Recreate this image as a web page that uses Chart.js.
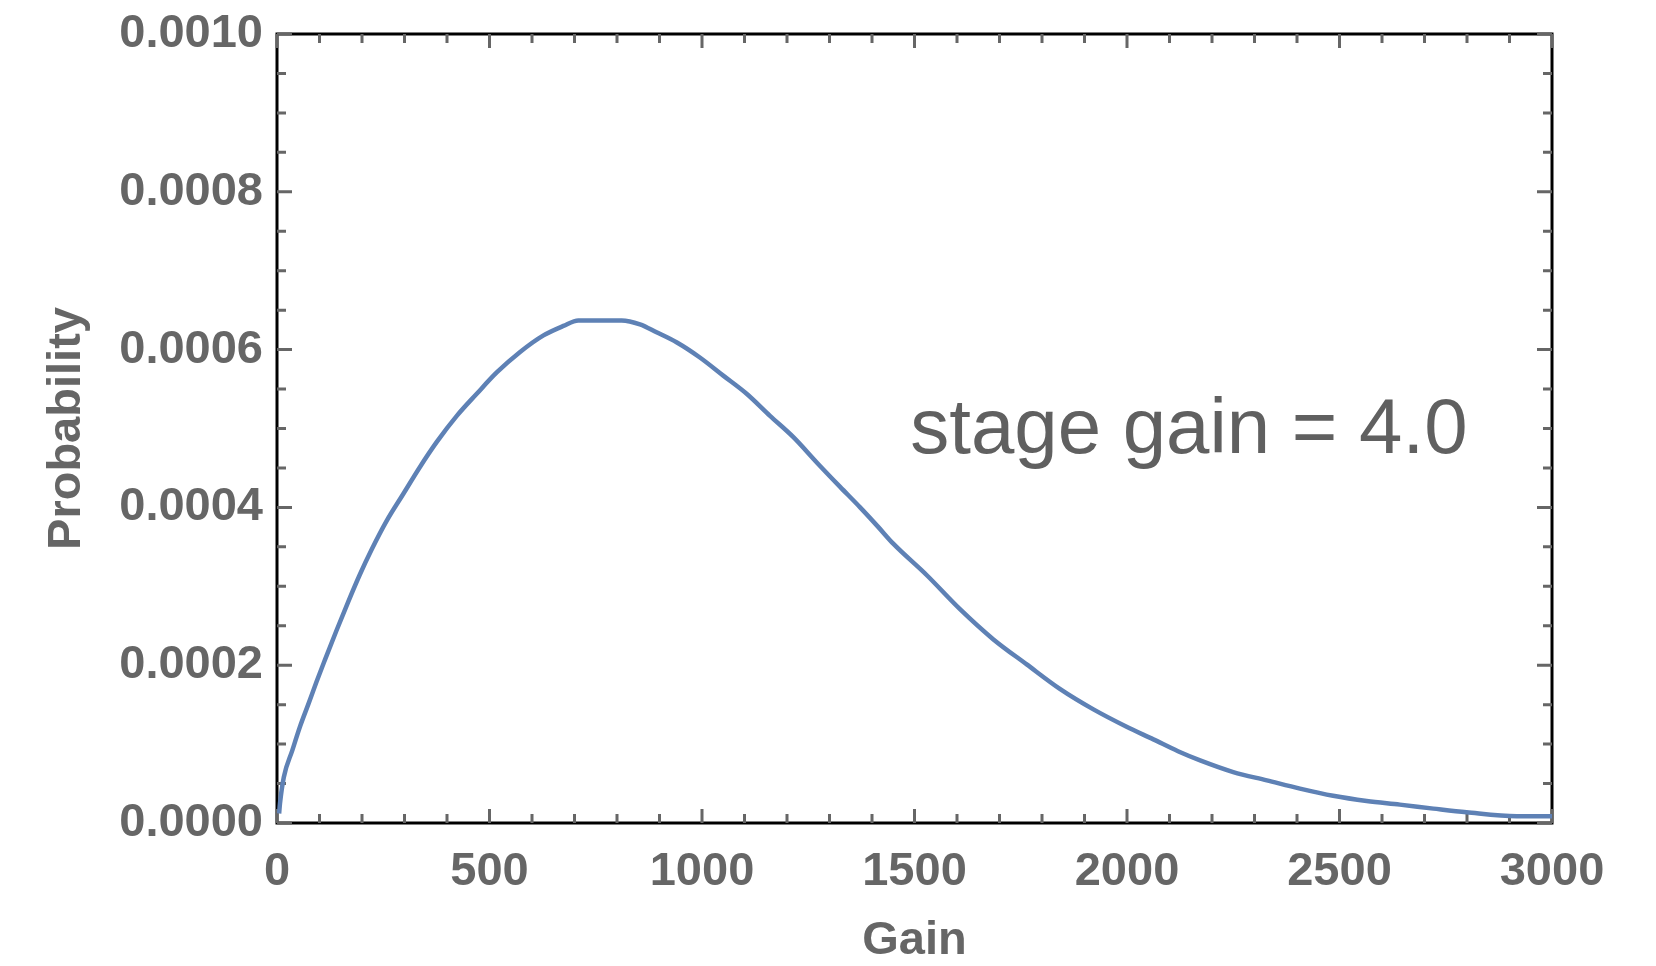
<!DOCTYPE html>
<html>
<head>
<meta charset="utf-8">
<title>Gain distribution</title>
<script src="https://cdn.jsdelivr.net/npm/chart.js@4.4.1/dist/chart.umd.min.js"></script>
<style>
  html, body { margin: 0; padding: 0; background: #fff; }
  #wrap { width: 1656px; height: 966px; position: relative; }
</style>
</head>
<body>
<div id="wrap"><canvas id="gainChart"></canvas></div>
<script>
// ---- data ----
const gain = [5, 7, 16, 36, 54, 74, 93, 113, 140, 168, 195, 223, 258, 297, 336, 376, 423, 470, 517, 572, 627, 674,
  709, 760, 811, 854, 893, 941, 995, 1050, 1105, 1160, 1215, 1270, 1325, 1372, 1415, 1450, 1529, 1607, 1685,
  1764, 1842, 1921, 1999, 2062, 2120, 2172, 2250, 2329, 2407, 2485, 2564, 2642, 2721, 2799, 2917, 3000];
const probability = [0.000012, 0.0000246, 0.000058, 0.000092, 0.000122, 0.000151, 0.000179, 0.000207, 0.000244,
  0.000281, 0.000315, 0.000347, 0.000383, 0.000417, 0.000451, 0.000483, 0.000516, 0.000544, 0.000571, 0.000597,
  0.000618, 0.000630, 0.000637, 0.000637, 0.000637, 0.000632, 0.000622, 0.000609, 0.00059, 0.000567, 0.000544,
  0.000516, 0.000489, 0.000457, 0.000426, 0.0004, 0.000375, 0.000354, 0.000314, 0.000271, 0.000233, 0.000201,
  0.00017, 0.000144, 0.000122, 0.000106, 0.000091, 0.0000794, 0.0000646, 0.0000541, 0.0000436, 0.0000345,
  0.0000279, 0.0000233, 0.0000182, 0.0000135, 0.0000085, 0.0000085];

const xTicks = [0, 500, 1000, 1500, 2000, 2500, 3000];
const yTicks = [0, 0.0002, 0.0004, 0.0006, 0.0008, 0.0010];
const xMinorStep = 100;
const yMinorStep = 0.00005;

const xTitle = 'Gain';
const yTitle = 'Probability';
const noteText = 'stage gain = 4.0';
const noteAt = { x: 1490, y: 0.000469 };

const GREY = '#666666';
const LINE = '#5E81B5';
const FONT = "'Liberation Sans', Arial, Helvetica, sans-serif";

// frame + inward ticks on all four sides (Mathematica style)
const frameTicks = {
  id: 'frameTicks',
  beforeDatasetsDraw(chart) {
    const { ctx, chartArea: a, scales: { x, y } } = chart;
    ctx.save();
    ctx.strokeStyle = '#000';
    ctx.lineWidth = 3;
    ctx.strokeRect(a.left, a.top, a.right - a.left, a.bottom - a.top);

    ctx.strokeStyle = GREY;
    ctx.lineWidth = 3;
    ctx.beginPath();
    for (let v = x.min; v <= x.max + 1e-9; v += xMinorStep) {
      const px = x.getPixelForValue(v);
      const len = xTicks.includes(Math.round(v)) ? 14 : 9;
      ctx.moveTo(px, a.bottom); ctx.lineTo(px, a.bottom - len);
      ctx.moveTo(px, a.top); ctx.lineTo(px, a.top + len);
    }
    for (let i = 0; i <= Math.round((y.max - y.min) / yMinorStep); i++) {
      const v = y.min + i * yMinorStep;
      const py = y.getPixelForValue(v);
      const len = i % 4 === 0 ? 15 : 9;
      ctx.moveTo(a.left, py); ctx.lineTo(a.left + len, py);
      ctx.moveTo(a.right, py); ctx.lineTo(a.right - len, py);
    }
    ctx.stroke();
    ctx.restore();
  },
  afterDraw(chart) {
    const { ctx, scales: { x, y } } = chart;
    ctx.save();
    ctx.fillStyle = '#606060';
    ctx.font = '78px ' + FONT;
    ctx.textBaseline = 'alphabetic';
    ctx.textAlign = 'left';
    ctx.fillText(noteText, x.getPixelForValue(noteAt.x), y.getPixelForValue(noteAt.y));
    ctx.restore();
  }
};

new Chart(document.getElementById('gainChart'), {
  type: 'line',
  data: {
    datasets: [{
      label: 'Probability',
      data: gain.map((g, i) => ({ x: g, y: probability[i] })),
      borderColor: LINE,
      borderWidth: 4.5,
      pointRadius: 0,
      fill: false,
      cubicInterpolationMode: 'monotone'
    }]
  },
  options: {
    responsive: true,
    maintainAspectRatio: false,
    animation: false,
    layout: { padding: { left: 0, top: 34, right: 104, bottom: 0 } },
    plugins: { legend: { display: false }, tooltip: { enabled: false } },
    scales: {
      x: {
        type: 'linear',
        min: 0, max: 3000,
        afterFit: s => { s.height = 143; },
        afterBuildTicks: s => { s.ticks = xTicks.map(v => ({ value: v })); },
        grid: { display: false },
        border: { display: false },
        ticks: {
          color: GREY, padding: 13, maxRotation: 0,
          font: { family: FONT, size: 47, weight: 'bold' },
          callback: v => String(v)
        },
        title: {
          display: true, text: xTitle, color: GREY,
          font: { family: FONT, size: 47, weight: 'bold', lineHeight: 1 },
          padding: { top: 0, bottom: 1 }
        }
      },
      y: {
        min: 0, max: 0.001,
        afterFit: s => { s.width = 277; },
        afterBuildTicks: s => { s.ticks = yTicks.map(v => ({ value: v })); },
        grid: { display: false },
        border: { display: false },
        ticks: {
          color: GREY, padding: 6,
          font: { family: FONT, size: 47, weight: 'bold', lineHeight: 1 },
          callback: v => Number(v).toFixed(4)
        },
        title: {
          display: true, text: yTitle, color: GREY,
          font: { family: FONT, size: 47, weight: 'bold', lineHeight: 1 },
          padding: { top: 44, bottom: 0 }
        }
      }
    }
  },
  plugins: [frameTicks]
});
</script>
</body>
</html>
